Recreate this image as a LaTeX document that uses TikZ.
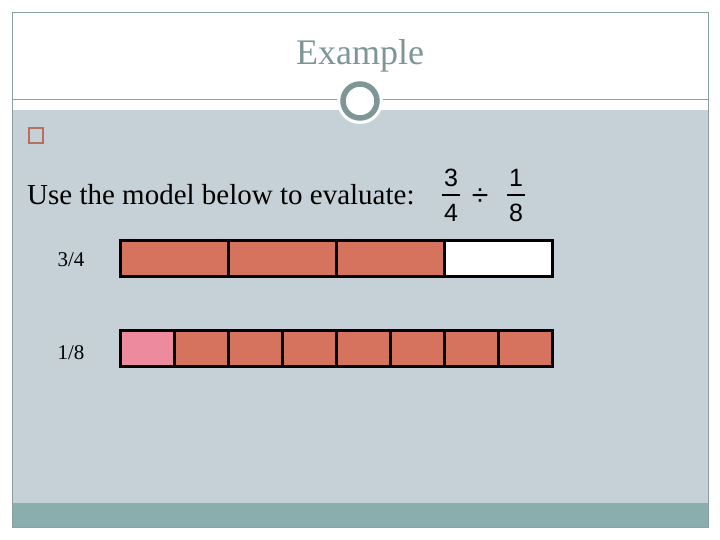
\documentclass[tikz,border=0pt]{standalone}
\usepackage{fontspec}
\setmainfont{Liberation Serif}
\newfontfamily\digitfont{Liberation Sans}
\usetikzlibrary{positioning}
\definecolor{slidebody}{HTML}{C5D1D7}
\definecolor{slideband}{HTML}{8AADAD}
\definecolor{slideline}{HTML}{8A9FA0}
\definecolor{titlegrey}{HTML}{7F9696}
\definecolor{barred}{HTML}{D6735F}
\definecolor{barpink}{HTML}{EE8A9E}
\definecolor{bulletred}{HTML}{B8705E}
\tikzset{
  cell/.style={draw=black,line width=3pt,minimum height=36pt,inner sep=0pt,outer sep=0pt},
  lbl/.style={font=\fontsize{21}{24}\selectfont,inner sep=0pt},
  dig/.style={font=\digitfont\fontsize{25}{28}\selectfont,inner sep=0pt}
}
\begin{document}
\begin{tikzpicture}[x=1pt,y=-1pt]
\useasboundingbox (0,0) rectangle (720,540);
% slide background
\fill[white] (0,0) rectangle (720,540);
\fill[slidebody] (12,110) rectangle (708,503);
\fill[slideband] (12,503) rectangle (708,527);
\draw[slideline,line width=0.8pt] (12,12) rectangle (708,527);
\draw[slideline,line width=1pt] (12,100) -- (708,100);
% title ring
\fill[white] (360,101) circle (23);
\draw[titlegrey,line width=5.5pt] (360,101) circle (17);
\node[titlegrey,font=\fontsize{36}{42}\selectfont] (title) at (360,56) {Example};
% bullet
\node[draw=bulletred,line width=2pt,minimum width=14pt,minimum height=15pt,inner sep=0pt] (bullet) at (36,136) {};
\node[anchor=base west,inner sep=0pt,font=\fontsize{29}{34}\selectfont] (task) at (27,205) {Use the model below to evaluate:};
% the division 3/4 : 1/8
\node[dig] (n1) at (451,178) {3};
\node[dig] (d1) at (451,213) {4};
\node[dig] (n2) at (516,178) {1};
\node[dig] (d2) at (516,213) {8};
\node[dig,font=\digitfont\fontsize{30}{32}\selectfont] (dv) at (480,197) {÷};
\coordinate (b1l) at (442,195); \coordinate (b1r) at (460,195);
\coordinate (b2l) at (507,195); \coordinate (b2r) at (525,195);
\draw[line width=1.8pt] (b1l) -- (b1r);
\draw[line width=1.8pt] (b2l) -- (b2r);
% fraction bars
\foreach \i/\c in {0/barred,1/barred,2/barred,3/white}
  \node[cell,fill=\c,minimum width=108pt] (q\i) at (174+108*\i,258) {};
\foreach \i in {0,...,7}
  \node[cell,fill=barred,minimum width=54pt] (e\i) at (147+54*\i,348) {};
\node[cell,fill=barpink,minimum width=54pt] (e0) at (147,348) {};
\node[lbl] (lq) at (71,260) {3/4};
\node[lbl] (le) at (71,353) {1/8};
\end{tikzpicture}
\end{document}
